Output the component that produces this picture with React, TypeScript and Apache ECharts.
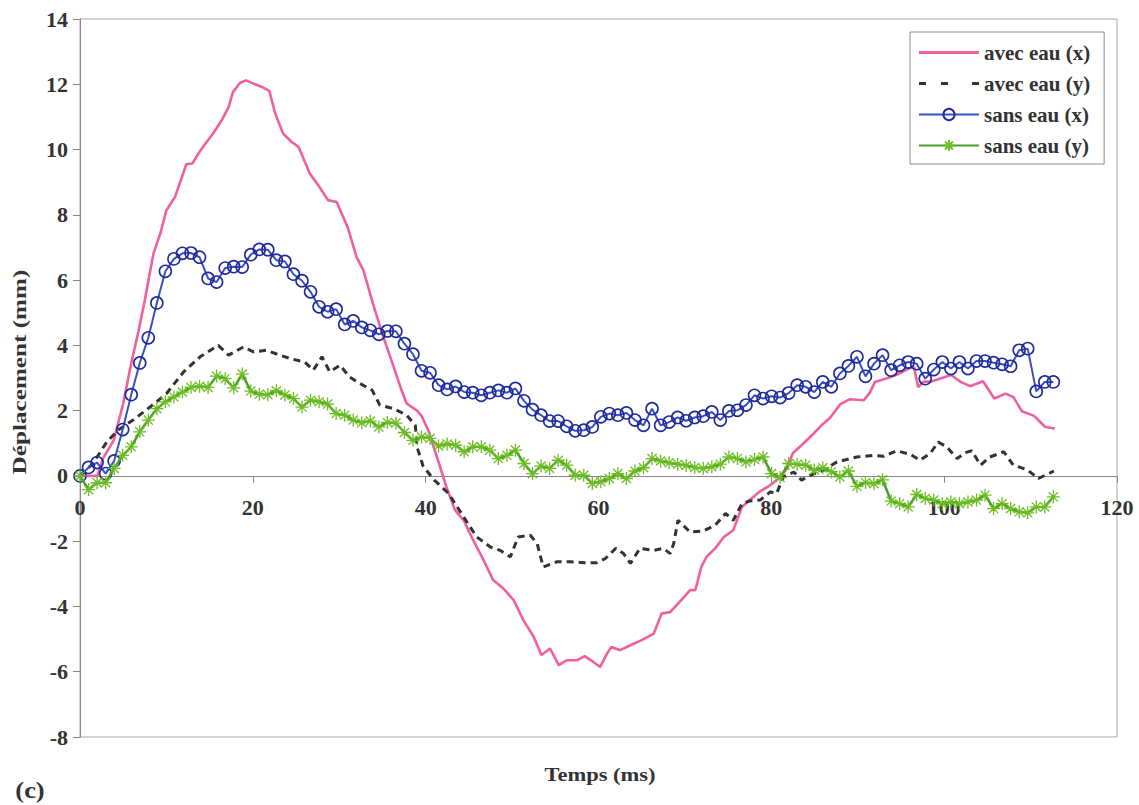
import React, { useEffect, useRef } from "react";
import * as echarts from "echarts";

// Sampling interval of the "sans eau" measurements (ms)
const sampleStep = 0.988;

const sansEauX = [
  0.0, 0.26, 0.41, 0.07, 0.46, 1.42, 2.49, 3.46, 4.23, 5.3,
  6.27, 6.65, 6.82, 6.83, 6.7, 6.05, 5.94, 6.37, 6.41, 6.4,
  6.78, 6.94, 6.93, 6.61, 6.57, 6.18, 5.98, 5.64, 5.18, 5.03,
  5.11, 4.64, 4.75, 4.55, 4.46, 4.34, 4.44, 4.43, 4.05, 3.73,
  3.22, 3.16, 2.78, 2.65, 2.74, 2.57, 2.55, 2.47, 2.55, 2.62,
  2.55, 2.68, 2.3, 2.03, 1.86, 1.68, 1.68, 1.52, 1.38, 1.4,
  1.5, 1.81, 1.91, 1.86, 1.93, 1.71, 1.55, 2.06, 1.55, 1.65,
  1.79, 1.69, 1.79, 1.83, 1.96, 1.71, 1.99, 2.01, 2.17, 2.47,
  2.37, 2.44, 2.4, 2.54, 2.78, 2.73, 2.57, 2.88, 2.73, 3.14,
  3.37, 3.65, 3.05, 3.44, 3.7, 3.24, 3.39, 3.49, 3.44, 2.98,
  3.26, 3.49, 3.29, 3.49, 3.29, 3.52, 3.52, 3.47, 3.42, 3.36,
  3.85, 3.9, 2.59, 2.88, 2.88,
];

const sansEauY = [
  0.0, -0.42, -0.21, -0.21, 0.23, 0.63, 0.89, 1.35, 1.71, 2.06,
  2.27, 2.42, 2.57, 2.71, 2.75, 2.71, 3.06, 2.98, 2.7, 3.12,
  2.6, 2.5, 2.49, 2.61, 2.48, 2.37, 2.11, 2.32, 2.27, 2.2,
  1.91, 1.86, 1.71, 1.63, 1.68, 1.5, 1.64, 1.62, 1.33, 1.09,
  1.19, 1.15, 0.92, 0.98, 0.94, 0.74, 0.89, 0.89, 0.79, 0.53,
  0.63, 0.79, 0.38, 0.07, 0.3, 0.23, 0.48, 0.33, 0.02, 0.02,
  -0.23, -0.18, -0.08, 0.07, -0.08, 0.15, 0.25, 0.53, 0.46, 0.4,
  0.36, 0.32, 0.26, 0.23, 0.28, 0.36, 0.58, 0.53, 0.43, 0.5,
  0.58, 0.07, -0.05, 0.38, 0.36, 0.33, 0.18, 0.25, 0.13, -0.03,
  0.15, -0.32, -0.2, -0.24, -0.12, -0.77, -0.85, -0.95, -0.57, -0.69,
  -0.74, -0.85, -0.8, -0.85, -0.8, -0.74, -0.59, -1.0, -0.85, -1.0,
  -1.1, -1.13, -0.95, -0.95, -0.64,
];

const avecEauXTime = [
  0, 2.0, 2.7, 3.9, 5.0, 6.0, 6.75, 7.5, 8.0, 8.5, 9.3, 10.0, 11.0, 11.8, 12.3,
  13.0, 13.7, 14.5, 15.4, 16.4, 17.2, 17.7, 18.5, 19.2, 20.1, 21.2, 21.9, 22.6,
  23.5, 24.5, 25.3, 26.6, 27.6, 28.7, 29.7, 31.0, 32.0, 32.8, 33.9, 35.1, 36.3,
  37.2, 37.8, 39.0, 39.5, 40.3, 41.3, 42.4, 43.4, 44.4, 45.5, 46.7, 47.8, 49.0,
  50.2, 51.3, 52.5, 53.4, 54.4, 55.4, 56.3, 57.5, 58.4, 59.4, 60.2, 61.0, 61.5,
  62.5, 63.7, 65.0, 66.4, 67.3, 68.3, 69.4, 70.6, 71.2, 71.9, 72.5, 73.5, 74.5,
  75.6, 76.6, 77.5, 78.7, 79.9, 81.0, 81.8, 82.5, 83.5, 84.9, 85.8, 86.8, 88.0,
  89.1, 90.7, 91.4, 92.0, 93.2, 94.5, 96.0, 96.5, 97.0, 97.6, 98.6, 99.5, 100.8,
  101.9, 103.0, 104.5, 105.8, 107.1, 108.0, 109.0, 110.4, 111.7, 112.8,
];
const avecEauXValue = [
  0, 0.0, 0.55, 1.09, 2.22, 3.54, 4.41, 5.38, 6.1, 6.81, 7.43, 8.14, 8.55, 9.16, 9.55,
  9.57, 9.88, 10.18, 10.49, 10.9, 11.3, 11.76, 12.04, 12.12, 12.02, 11.9, 11.8, 11.1,
  10.49, 10.23, 10.08, 9.26, 8.9, 8.45, 8.39, 7.6, 6.71, 6.3, 5.28, 4.26, 3.34,
  2.63, 2.22, 2.0, 1.85, 1.4, 0.58, -0.34, -1.05, -1.36, -1.97, -2.58, -3.19, -3.45,
  -3.81, -4.42, -4.93, -5.49, -5.29, -5.8, -5.65, -5.65, -5.52, -5.7, -5.85, -5.44, -5.24,
  -5.34, -5.19, -5.03, -4.83, -4.22, -4.17, -3.86, -3.5, -3.5, -2.79, -2.48, -2.22, -1.87,
  -1.66, -0.95, -0.74, -0.47, -0.28, -0.05, 0.23, 0.7, 0.94, 1.3, 1.55, 1.78, 2.2,
  2.35, 2.32, 2.55, 2.88, 2.98, 3.1, 3.3, 3.34, 2.72, 2.88, 2.9, 2.98, 3.09,
  2.88, 2.75, 2.9, 2.37, 2.52, 2.42, 1.98, 1.84, 1.5, 1.45,
];

const avecEauYTime = [
  0, 1.5, 3.1, 4.4, 6.4, 8.1, 10.0, 12.0, 13.9, 16.0, 17.2, 18.9, 20.1, 21.6, 23.1,
  24.7, 26.0, 27.0, 28.0, 28.9, 30.1, 31.2, 32.4, 33.8, 34.7, 36.3, 37.8, 38.8, 39.0,
  39.7, 41.0, 42.6, 44.4, 45.9, 47.5, 48.6, 49.8, 50.7, 52.1, 52.9, 53.6, 55.2, 56.7,
  58.3, 59.8, 60.8, 62.0, 62.9, 63.7, 64.8, 66.4, 67.5, 68.3, 68.7, 69.2, 70.6, 72.1,
  73.5, 74.7, 75.6, 76.6, 77.5, 78.7, 79.9, 80.6, 81.4, 82.6, 83.5, 84.5, 86.0, 87.6,
  89.9, 91.8, 93.0, 94.5, 96.1, 97.2, 98.4, 99.3, 100.3, 101.5, 102.4, 103.2, 104.2,
  105.3, 106.9, 108.0, 109.6, 110.9, 112.7,
];
const avecEauYValue = [
  0, 0.38, 1.04, 1.4, 1.76, 2.11, 2.52, 3.19, 3.65, 4.0, 3.7, 3.95, 3.8, 3.85, 3.7,
  3.57, 3.49, 3.24, 3.65, 3.19, 3.39, 3.03, 2.83, 2.63, 2.17, 2.06, 1.86, 1.55, 0.89,
  0.3, -0.13, -0.52, -1.26, -1.87, -2.18, -2.28, -2.48, -1.87, -1.82, -2.07, -2.79, -2.63, -2.63,
  -2.66, -2.66, -2.53, -2.22, -2.38, -2.68, -2.22, -2.28, -2.22, -2.38, -2.07, -1.36, -1.72, -1.69,
  -1.51, -1.15, -1.36, -0.85, -0.77, -0.74, -0.49, -0.54, -0.03, 0.12, -0.13, 0.02, 0.17, 0.43,
  0.58, 0.63, 0.6, 0.77, 0.66, 0.48, 0.69, 1.04, 0.89, 0.53, 0.71, 0.77, 0.33,
  0.58, 0.74, 0.33, 0.19, -0.08, 0.15,
];

const xTicks = { min: 0, max: 120, interval: 20 };
const yTicks = { min: -8, max: 14, interval: 2 };

const seriesNames = ["avec eau (x)", "avec eau (y)", "sans eau (x)", "sans eau (y)"];
const xTitle = "Temps (ms)";
const yTitle = "Déplacement (mm)";
const panelLabel = "(c)";

const FONT = "'Liberation Serif', 'Times New Roman', serif";
const STAR = "path://M5,0L5,10M0,5L10,5M1.5,1.5L8.5,8.5M1.5,8.5L8.5,1.5";
const SOLID_ICON = "path://M0,0H60V3H0Z";
const DASH_ICON = "path://M0,0H7V3H0ZM22,0H29V3H22ZM53,0H60V3H53Z";

const GRID_TOP = 19;
const GRID_BOTTOM = 68;
const CHART_H = 805;

export default function App() {
  const ref = useRef<HTMLDivElement>(null);
  useEffect(() => {
    if (!ref.current) return;
    const chart = echarts.init(ref.current, null, { renderer: "svg" });
    const pair = (ts: number[], vs: number[]) => ts.map((t, i) => [t, vs[i]]);
    const sampled = (vs: number[]) => vs.map((v, i) => [+(i * sampleStep).toFixed(3), v]);
    const plotH = CHART_H - GRID_TOP - GRID_BOTTOM;
    // lift the x axis to the y = 0 line
    const zeroOffset = -plotH * (0 - yTicks.min) / (yTicks.max - yTicks.min);
    chart.setOption({
      animation: false,
      backgroundColor: "#fff",
      grid: {
        left: 80, right: 22, top: GRID_TOP, bottom: GRID_BOTTOM,
        show: true, borderColor: "#a8a8a8", borderWidth: 1, backgroundColor: "transparent",
      },
      legend: {
        orient: "vertical",
        left: 910, top: 32,
        padding: [10, 14, 8, 8],
        itemGap: 10,
        itemWidth: 60,
        itemHeight: 14,
        borderColor: "#8a8a8a", borderWidth: 1,
        backgroundColor: "#fff",
        data: [
          { name: seriesNames[0], icon: SOLID_ICON },
          { name: seriesNames[1], icon: DASH_ICON },
          { name: seriesNames[2] },
          { name: seriesNames[3] },
        ],
        textStyle: { fontFamily: FONT, fontWeight: "bold", fontSize: 21, color: "#333" },
      },
      xAxis: {
        type: "value",
        position: "bottom",
        offset: zeroOffset,
        min: xTicks.min, max: xTicks.max, interval: xTicks.interval,
        axisLine: { onZero: false, lineStyle: { color: "#888", width: 1 } },
        axisTick: { show: true, inside: false, length: 7, lineStyle: { color: "#888" } },
        axisLabel: { fontFamily: FONT, fontWeight: "bold", fontSize: 22, color: "#333", margin: 21 },
        splitLine: { show: false },
      },
      yAxis: {
        type: "value",
        min: yTicks.min, max: yTicks.max, interval: yTicks.interval,
        axisLine: { show: true, onZero: false, lineStyle: { color: "#888", width: 1 } },
        axisTick: { show: true, inside: false, length: 7, lineStyle: { color: "#888" } },
        axisLabel: { fontFamily: FONT, fontWeight: "bold", fontSize: 22, color: "#333", margin: 12 },
        splitLine: { show: false },
      },
      graphic: [
        {
          type: "text", x: 20, y: 372, rotation: Math.PI / 2, scaleX: 1.4,
          style: {
            text: yTitle, fontFamily: FONT, fontWeight: "bold", fontSize: 18, fill: "#333",
            align: "center", verticalAlign: "middle",
          },
        },
        {
          type: "text", x: 600, y: 775, scaleX: 1.25,
          style: {
            text: xTitle, fontFamily: FONT, fontWeight: "bold", fontSize: 18, fill: "#333",
            align: "center", verticalAlign: "middle",
          },
        },
        {
          type: "text", x: 30, y: 790, scaleX: 1.15,
          style: {
            text: panelLabel, fontFamily: FONT, fontWeight: "bold", fontSize: 23, fill: "#333",
            align: "center", verticalAlign: "middle",
          },
        },
      ],
      series: [
        {
          name: seriesNames[0], type: "line", data: pair(avecEauXTime, avecEauXValue),
          showSymbol: false, symbol: "none",
          lineStyle: { color: "#f0609f", width: 2.6 },
          itemStyle: { color: "#f0609f" }, z: 2,
        },
        {
          name: seriesNames[1], type: "line", data: pair(avecEauYTime, avecEauYValue),
          showSymbol: false, symbol: "none",
          lineStyle: { color: "#333", width: 3, type: [7, 5] },
          itemStyle: { color: "#333" }, z: 3,
        },
        {
          name: seriesNames[2], type: "line", data: sampled(sansEauX),
          symbol: "circle", symbolSize: 12, showSymbol: true,
          lineStyle: { color: "#3a4fc2", width: 2 },
          itemStyle: { color: "rgba(255,255,255,0)", borderColor: "#1f2b9a", borderWidth: 1.6 },
          z: 4,
        },
        {
          name: seriesNames[3], type: "line", data: sampled(sansEauY),
          symbol: STAR, symbolSize: 13, showSymbol: true,
          lineStyle: { color: "#4a9e2a", width: 2.5 },
          itemStyle: { color: "rgba(0,0,0,0)", borderColor: "#6cbf22", borderWidth: 1.3 },
          z: 5,
        },
      ],
    });
    return () => chart.dispose();
  }, []);
  return (
    <div
      ref={ref}
      style={{ position: "absolute", left: 0, top: 0, width: 1139, height: 805, background: "#fff" }}
    />
  );
}
